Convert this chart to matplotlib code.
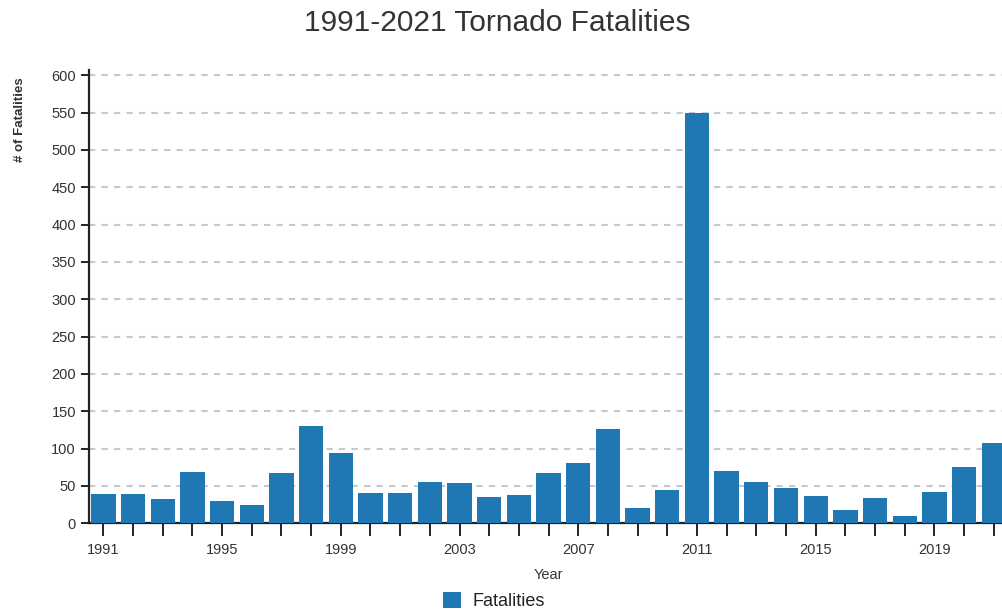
import matplotlib
matplotlib.use("Agg")
import matplotlib.pyplot as plt

plt.rcParams['font.family'] = ['Liberation Sans', 'DejaVu Sans']

years = list(range(1991, 2022))
fatalities = [39, 39, 33, 69, 30, 25, 67, 130, 94, 41, 40, 55, 54, 35, 38,
              67, 81, 126, 21, 45, 550, 70, 55, 47, 36, 18, 34, 10, 42, 76, 108]
label_years = [y for y in years if (y - 1991) % 4 == 0]
y_ticks = list(range(0, 601, 50))

W, H = 1003, 613
fig = plt.figure(figsize=(W / 100, H / 100), dpi=100)
# axes runs a little past the right edge, like the original screenshot
left, right = 88.5 / W, 1008.6 / W
bottom, top = (H - 523.3) / H, (H - 70) / H
ax = fig.add_axes([left, bottom, right - left, top - bottom])

pos = list(range(len(years)))
ax.bar(pos, fatalities, width=0.82, color='#1f77b4', label='Fatalities', zorder=3)

ax.set_xlim(-0.5, len(years) - 0.5)
ax.set_ylim(0, 607)
ax.set_yticks(y_ticks)
ax.set_xticks(pos)
ax.set_xticklabels([str(y) if y in label_years else '' for y in years])

ax.yaxis.grid(True, linestyle=(0, (3, 3)), color='#c8c8c8', linewidth=1.5, zorder=0)
ax.set_axisbelow(True)

for s in ['top', 'right']:
    ax.spines[s].set_visible(False)
for s in ['left', 'bottom']:
    ax.spines[s].set_color('#222222')
    ax.spines[s].set_linewidth(1.6)

ax.tick_params(axis='y', length=6, width=1.4, color='#222222', labelsize=10.5,
               labelcolor='#333333', pad=3)
ax.tick_params(axis='x', length=9, width=1.4, color='#222222', labelsize=10.5,
               labelcolor='#333333', pad=5)

ax.set_xlabel('Year', fontsize=10.5, color='#333333', labelpad=8)
fig.text(20 / W, 1 - 120 / H, '# of Fatalities', rotation=90, fontsize=9.5,
         fontweight='bold', color='#333333', ha='center', va='center')

fig.text(497 / W, 1 - 23 / H, '1991-2021 Tornado Fatalities', fontsize=21.5,
         color='#333333', ha='center', va='center')

fig.legend(loc='center', bbox_to_anchor=(494 / W, 1 - 601 / H), frameon=False,
           fontsize=13, handlelength=1.0, handleheight=1.0, handletextpad=0.6,
           labelcolor='#222222')

fig.savefig('out.png', dpi=100)
